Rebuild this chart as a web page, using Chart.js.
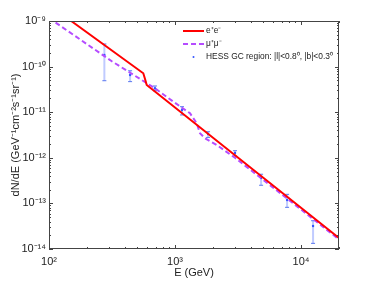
<!DOCTYPE html>
<html>
<head>
<meta charset="utf-8">
<script src="https://cdn.jsdelivr.net/npm/chart.js@4.4.1/dist/chart.umd.min.js"></script>
<style>
  html, body { margin: 0; padding: 0; background: #fff; }
  #wrap { width: 374px; height: 281px; position: relative; }
</style>
</head>
<body>
<div id="wrap"><canvas id="c" width="374" height="281"></canvas></div>
<script>
// e+e- spectrum (GeV, GeV^-1 cm^-2 s^-1 sr^-1)
const eeE = [100, 150, 560, 578, 596, 20000];
const eeF = [2.26e-9, 1e-9, 7.13e-11, 5.37e-11, 3.94e-11, 1.74e-14];

// mu+mu- spectrum
const mumuE = [100, 315, 693, 970, 1315, 1486, 1578, 1729, 2143, 2992, 7745, 20000];
const mumuF = [1.16e-9, 1.31e-10, 3.34e-11, 1.70e-11, 9.46e-12, 5.71e-12, 3.45e-12, 2.68e-12, 1.91e-12, 1.0e-12, 1.28e-13, 1.62e-14];

// HESS GC region points with error bars
const hessE = [275, 440, 693, 1136, 1828, 2992, 4819, 7745, 12450];
const hessF = [1.79e-10, 6.55e-11, 3.34e-11, 1.12e-11, 3.33e-12, 1.27e-12, 3.6e-13, 1.19e-13, 3.19e-14];
const hessLo = [4.9e-11, 4.68e-11, 2.95e-11, 8.7e-12, 2.8e-12, 1.1e-12, 2.5e-13, 8.2e-14, 1.33e-14];
const hessHi = [3.13e-10, 8.1e-11, 3.76e-11, 1.32e-11, 3.73e-12, 1.43e-12, 4.36e-13, 1.58e-13, 4.17e-14];

// axis ticks
const xTicks = [1e2, 1e3, 1e4];
const yTicks = [1e-14, 1e-13, 1e-12, 1e-11, 1e-10, 1e-9];

const legendLabels = ['e⁺e⁻', 'μ⁺μ⁻', 'HESS GC region: |l|<0.8⁰, |b|<0.3⁰'];

const FONT = "'Liberation Sans', Arial, sans-serif";
const sup = { '-': '⁻', '0': '⁰', '1': '¹', '2': '²', '3': '³', '4': '⁴', '5': '⁵', '6': '⁶', '7': '⁷', '8': '⁸', '9': '⁹' };
const powLabel = v => '10' + String(Math.round(Math.log10(v))).split('').map(c => sup[c]).join('');

const toXY = (xs, ys) => xs.map((x, i) => ({ x, y: ys[i] }));

// box + inward ticks like the original plot
const frame = {
  id: 'frame',
  afterDraw(chart) {
    const { ctx, chartArea: a, scales: { x, y } } = chart;
    ctx.save();
    ctx.strokeStyle = '#444';
    ctx.lineWidth = 1;
    ctx.strokeRect(a.left + 0.5, a.top + 0.5, a.right - a.left - 1, a.bottom - a.top - 1);
    const mark = (p, len, vert) => {
      ctx.beginPath();
      if (vert) {
        ctx.moveTo(p, a.bottom); ctx.lineTo(p, a.bottom - len);
        ctx.moveTo(p, a.top); ctx.lineTo(p, a.top + len);
      } else {
        ctx.moveTo(a.left, p); ctx.lineTo(a.left + len, p);
        ctx.moveTo(a.right, p); ctx.lineTo(a.right - len, p);
      }
      ctx.stroke();
    };
    for (let d = 2; d <= 4; d++) {
      for (let k = 1; k <= 9; k++) {
        const v = k * Math.pow(10, d);
        if (v > x.max) break;
        mark(Math.round(x.getPixelForValue(v)) + 0.5, k === 1 ? 4 : 2, true);
      }
    }
    for (let d = -14; d <= -9; d++) {
      for (let k = 1; k <= 9; k++) {
        const v = k * Math.pow(10, d);
        if (v > y.max * 1.0001) break;
        mark(Math.round(y.getPixelForValue(v)) + 0.5, k === 1 ? 4 : 2, false);
      }
    }
    ctx.restore();
  }
};

// vertical error bars for HESS points
const errorBars = {
  id: 'errorBars',
  beforeDatasetsDraw(chart) {
    const { ctx, scales: { x, y } } = chart;
    ctx.save();
    hessE.forEach((e, i) => {
      const px = x.getPixelForValue(e);
      const lo = y.getPixelForValue(hessLo[i]);
      const hi = y.getPixelForValue(hessHi[i]);
      ctx.strokeStyle = 'rgba(140,160,255,0.55)';
      ctx.lineWidth = 2;
      ctx.beginPath(); ctx.moveTo(px, lo); ctx.lineTo(px, hi); ctx.stroke();
      ctx.strokeStyle = '#5a78f0';
      ctx.lineWidth = 1;
      ctx.beginPath();
      ctx.moveTo(px - 2, lo); ctx.lineTo(px + 2, lo);
      ctx.moveTo(px - 2, hi); ctx.lineTo(px + 2, hi);
      ctx.stroke();
    });
    ctx.restore();
  }
};

// legend in the upper right of the plot
const legendBox = {
  id: 'legendBox',
  afterDraw(chart) {
    const { ctx } = chart;
    const rows = [31, 44, 57];
    ctx.save();
    ctx.font = '8.4px ' + FONT;
    ctx.fillStyle = '#222';
    ctx.textBaseline = 'middle';
    legendLabels.forEach((t, i) => ctx.fillText(t, 206, rows[i]));
    ctx.lineWidth = 2;
    ctx.strokeStyle = '#ff0000';
    ctx.beginPath(); ctx.moveTo(183, rows[0]); ctx.lineTo(204, rows[0]); ctx.stroke();
    ctx.strokeStyle = '#b54cff';
    ctx.setLineDash([5, 3]);
    ctx.beginPath(); ctx.moveTo(183, rows[1]); ctx.lineTo(204, rows[1]); ctx.stroke();
    ctx.setLineDash([]);
    ctx.fillStyle = '#3355ff';
    ctx.beginPath(); ctx.arc(193.5, rows[2], 1, 0, Math.PI * 2); ctx.fill();
    ctx.restore();
  }
};

new Chart(document.getElementById('c'), {
  type: 'line',
  data: {
    datasets: [
      {
        label: legendLabels[0],
        data: toXY(eeE, eeF),
        borderColor: '#ff0000',
        borderWidth: 2,
        pointRadius: 0,
        tension: 0
      },
      {
        label: legendLabels[1],
        data: toXY(mumuE, mumuF),
        borderColor: '#b54cff',
        borderWidth: 2,
        borderDash: [5, 3],
        pointRadius: 0,
        tension: 0
      },
      {
        label: legendLabels[2],
        data: toXY(hessE, hessF),
        showLine: false,
        pointRadius: 1.2,
        pointBackgroundColor: '#3355ff',
        pointBorderWidth: 0
      }
    ]
  },
  options: {
    responsive: false,
    animation: false,
    devicePixelRatio: 1,
    layout: { padding: { left: 0, right: 35, top: 21, bottom: 0 } },
    plugins: { legend: { display: false }, tooltip: { enabled: false } },
    scales: {
      x: {
        type: 'logarithmic',
        min: 100,
        max: 20000,
        afterBuildTicks: s => { s.ticks = xTicks.map(v => ({ value: v })); },
        afterFit: s => { s.height = 32; },
        grid: { display: false, drawTicks: false },
        border: { display: false },
        ticks: { callback: v => powLabel(v), autoSkip: false, maxRotation: 0, padding: 6, color: '#222', font: { family: FONT, size: 11 } },
        title: { display: true, text: 'E (GeV)', color: '#222', padding: { top: 0, bottom: 1 }, font: { family: FONT, size: 11 } }
      },
      y: {
        type: 'logarithmic',
        min: 1e-14,
        max: 1e-9,
        afterBuildTicks: s => { s.ticks = yTicks.map(v => ({ value: v })); },
        afterFit: s => { s.width = 49; },
        grid: { display: false, drawTicks: false },
        border: { display: false },
        ticks: { callback: v => powLabel(v), autoSkip: false, padding: 3, color: '#222', font: { family: FONT, size: 11 } },
        title: { display: true, text: 'dN/dE (GeV⁻¹cm⁻²s⁻¹sr⁻¹)', color: '#222', padding: { top: 9, bottom: 0 }, font: { family: FONT, size: 11 } }
      }
    }
  },
  plugins: [errorBars, frame, legendBox]
});
</script>
</body>
</html>
